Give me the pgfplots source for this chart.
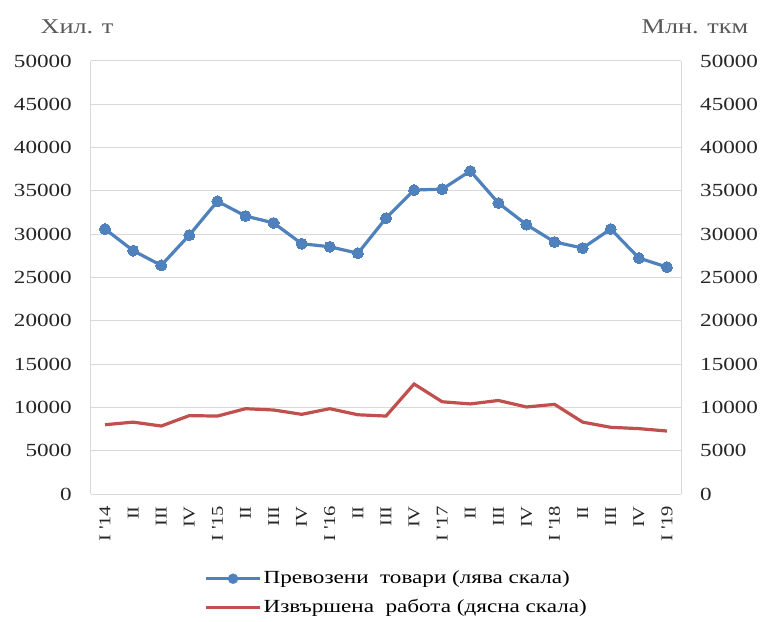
\documentclass[border=0pt]{standalone}
\usepackage{pgfplots}
\pgfplotsset{compat=1.18}
\usepackage{fontspec}
\setmainfont[FakeStretch=1.25]{Liberation Serif}
\definecolor{cblue}{HTML}{4F81BD}
\definecolor{cred}{HTML}{C0504D}
\definecolor{cgrid}{HTML}{D9D9D9}
\definecolor{ctext}{HTML}{595959}
\begin{document}
\fontsize{18}{21}\selectfont
\begin{tikzpicture}
\pgfplotsset{
  common/.style={
    scale only axis, width=590pt, height=433pt,
    xmin=-0.5, xmax=20.5, ymin=0, ymax=50000,
    ytick={0,5000,...,50000},
    /pgf/number format/1000 sep={},
    /pgf/number format/assume math mode=true,
    scaled y ticks=false,
    major tick length=0pt,
    tick label style={font=\fontsize{18.5}{21}\selectfont, text=black!85},
    axis line style={cgrid, line width=1pt},
  }
}
\begin{axis}[common, name=ax,
  axis y line*=left, axis x line*=box,
  ymajorgrids, grid style={cgrid, line width=1pt},
  xtick={0,...,20},
  xticklabels={I \textquotesingle14,II,III,IV,I \textquotesingle15,II,III,IV,I \textquotesingle16,II,III,IV,I \textquotesingle17,II,III,IV,I \textquotesingle18,II,III,IV,I \textquotesingle19},
  xticklabel style={rotate=90, anchor=east, xshift=-6pt, font=\fontsize{16.5}{19}\selectfont},
  yticklabel style={xshift=-13pt},
  legend style={at={(0.518,-0.168)}, anchor=north, draw=none, fill=none,
    font=\fontsize{18.5}{22}\selectfont, row sep=9pt, legend cell align=left},
  legend image code/.code={\draw[#1] (0pt,0pt) -- (54pt,0pt);},
]
\addplot[cblue, line width=3.2pt, mark=*, mark size=5.5pt, mark options={line width=0pt, fill=cblue}, forget plot] coordinates {
(0,30600) (1,28100) (2,26400) (3,29900) (4,33800) (5,32100) (6,31300) (7,28900)
(8,28550) (9,27800) (10,31850) (11,35100) (12,35200) (13,37300) (14,33600)
(15,31100) (16,29100) (17,28400) (18,30600) (19,27250) (20,26200)};
\addlegendimage{legend image code/.code={\draw[cblue, line width=3pt] (0pt,0pt) -- (54pt,0pt); \fill[cblue] (27pt,0pt) circle (5pt);}}
\addlegendentry{Превозени\ \ товари (лява скала)}
\addlegendimage{cred, line width=3.2pt}
\addlegendentry{Извършена\ \ работа (дясна скала)}
\end{axis}
\begin{axis}[common,
  axis y line*=right, axis x line=none,
  yticklabel style={xshift=13pt},
]
\addplot[cred, line width=3.2pt] coordinates {
(0,8000) (1,8300) (2,7850) (3,9050) (4,9000) (5,9850) (6,9700) (7,9200)
(8,9850) (9,9150) (10,9000) (11,12700) (12,10650) (13,10400) (14,10800)
(15,10050) (16,10350) (17,8300) (18,7700) (19,7550) (20,7270)};
\end{axis}
\node[anchor=center, text=ctext, font=\fontsize{21}{24}\selectfont] at ([shift={(-14pt,34pt)}]ax.north west) {Хил. т};
\node[anchor=center, text=ctext, font=\fontsize{21}{24}\selectfont] at ([shift={(14pt,34pt)}]ax.north east) {Млн. ткм};
\useasboundingbox ([shift={(-91pt,-127pt)}]ax.south west) rectangle ([shift={(84pt,61pt)}]ax.north east);
\end{tikzpicture}
\end{document}
